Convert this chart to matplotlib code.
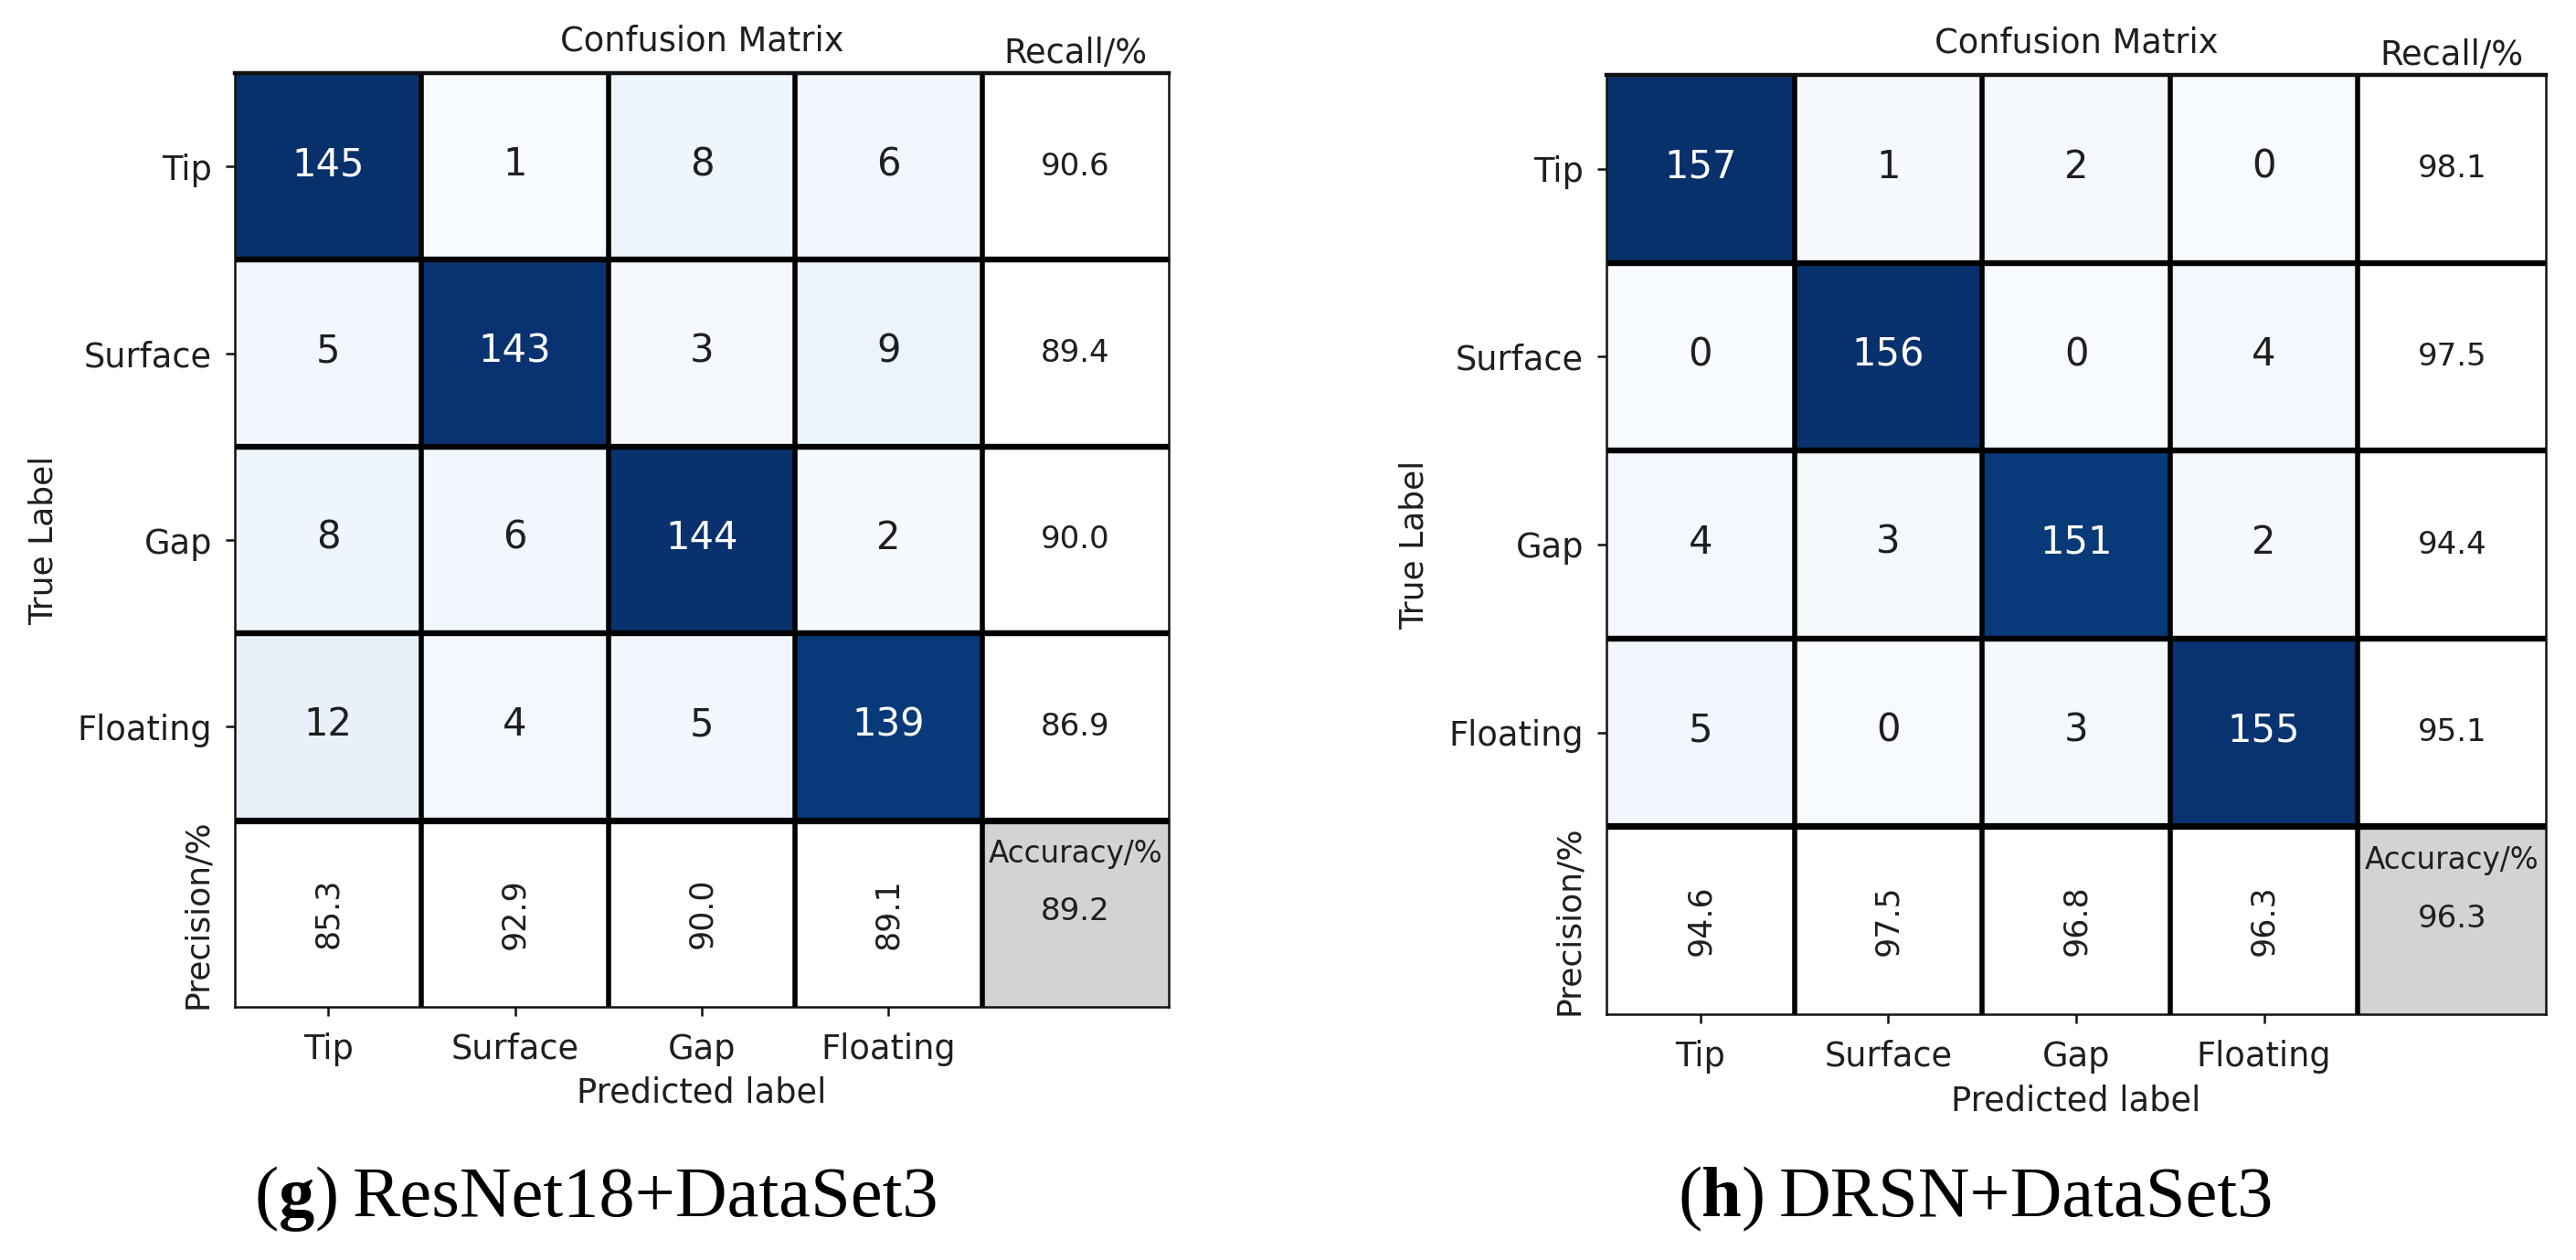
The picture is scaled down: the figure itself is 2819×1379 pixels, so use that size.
import numpy as np
import matplotlib
matplotlib.use("Agg")
import matplotlib.pyplot as plt

classes = ["Tip", "Surface", "Gap", "Floating"]

counts_g = [[145, 1, 8, 6], [5, 143, 3, 9], [8, 6, 144, 2], [12, 4, 5, 139]]
recall_g = ["90.6", "89.4", "90.0", "86.9"]
precision_g = ["85.3", "92.9", "90.0", "89.1"]
accuracy_g = "89.2"
caption_g = ("g", "ResNet18+DataSet3")

counts_h = [[157, 1, 2, 0], [0, 156, 0, 4], [4, 3, 151, 2], [5, 0, 3, 155]]
recall_h = ["98.1", "97.5", "94.4", "95.1"]
precision_h = ["94.6", "97.5", "96.8", "96.3"]
accuracy_h = "96.3"
caption_h = ("h", "DRSN+DataSet3")

W, H = 2819, 1379
TEXT = "#1f1f1f"
plt.rcParams["font.family"] = "DejaVu Sans"
fig = plt.figure(figsize=(W / 100, H / 100), dpi=100, facecolor="white")


def panel(box, counts, recall, precision, accuracy):
    x0, y0, x1, y1 = box
    ax = fig.add_axes([x0 / W, 1 - y1 / H, (x1 - x0) / W, (y1 - y0) / H])
    arr = np.array(counts, dtype=float)
    ax.set_facecolor("white")
    ax.pcolormesh(np.arange(5), np.arange(5), arr, cmap="Blues",
                  vmin=arr.min(), vmax=arr.max())
    ax.fill_between([4, 5], 4, 5, color="#d3d3d3", lw=0)
    ax.set_xlim(0, 5)
    ax.set_ylim(5, 0)
    ax.set_aspect("auto")

    for k in range(1, 5):
        ax.axvline(k, color="black", lw=4.0, zorder=3)
        ax.axhline(k, color="black", lw=4.6 if k < 4 else 5.2, zorder=3)
    for name, s in ax.spines.items():
        s.set_linewidth(3.2 if name == "top" else 1.8)
        s.set_color("#111111")
        s.set_zorder(4)

    n = len(classes)
    for i in range(n):
        for j in range(n):
            v = counts[i][j]
            ax.text(j + 0.5, i + 0.49, str(v), ha="center", va="center",
                    fontsize=30,
                    color="white" if v > arr.max() / 2 else TEXT)
        ax.text(n + 0.5, i + 0.5, recall[i], ha="center", va="center",
                fontsize=24.5, color=TEXT)
        ax.text(i + 0.5, n + 0.5, precision[i], ha="center", va="center",
                rotation=90, fontsize=25, color=TEXT)
    ax.text(n + 0.5, n + 0.18, "Accuracy/%", ha="center", va="center",
            fontsize=23.5, color=TEXT)
    ax.text(n + 0.5, n + 0.49, accuracy, ha="center", va="center",
            fontsize=24.5, color=TEXT)

    ax.text(n + 0.5, -0.105, "Recall/%", ha="center", va="center",
            fontsize=26.5, color=TEXT)
    ax.text(-0.2, n + 0.5, "Precision/%", ha="center", va="center",
            rotation=90, fontsize=26, color=TEXT)

    ax.set_xticks(np.arange(n) + 0.5, classes)
    ax.set_yticks(np.arange(n) + 0.5, classes)
    ax.tick_params(axis="both", labelsize=26.5, length=7, width=1.8,
                   labelcolor=TEXT, color="#111111")
    ax.tick_params(axis="y", pad=11)
    ax.tick_params(axis="x", pad=13)

    ax.set_xlabel("Predicted label", fontsize=26.5, color=TEXT)
    ax.xaxis.set_label_coords(0.5, -0.092, transform=ax.transAxes)
    ax.xaxis.label.set_va("center")
    ax.set_ylabel("True Label", fontsize=26, color=TEXT)
    ax.yaxis.set_label_coords(-0.205, 0.5, transform=ax.transAxes)
    ax.yaxis.label.set_va("center")
    ax.set_title("Confusion Matrix", fontsize=26.5, color=TEXT,
                 x=0.5, y=1.034, va="center", pad=0)
    return ax


def caption(x_px, y_px, letter, rest):
    renderer = fig.canvas.get_renderer()
    pieces = [("(", "normal", 0), (letter, "bold", 0), (")", "normal", 15), (rest, "normal", 0)]
    x = x_px
    for text, weight, gap in pieces:
        t = fig.text(x / W, 1 - y_px / H, text, family="Liberation Serif",
                     fontsize=56.5, fontweight=weight, color="black", va="baseline")
        x += t.get_window_extent(renderer).width + gap


panel((257, 80, 1279, 1102), counts_g, recall_g, precision_g, accuracy_g)
panel((1758, 82, 2786, 1110), counts_h, recall_h, precision_h, accuracy_h)
caption(279, 1331, *caption_g)
caption(1836, 1331, *caption_h)

fig.savefig("out.png", dpi=100, facecolor="white")
